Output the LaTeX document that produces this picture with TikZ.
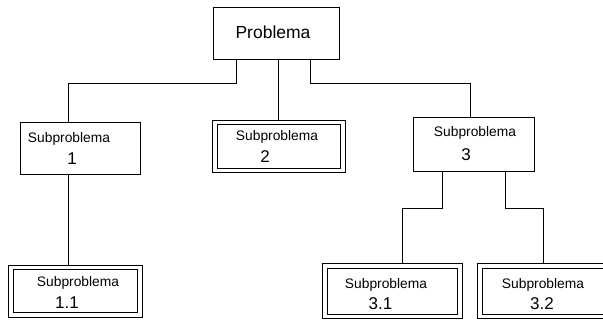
\documentclass[tikz,border=0pt]{standalone}
\usepackage{fontspec}
\setmainfont{Liberation Sans}
\begin{document}
\begin{tikzpicture}[x=1pt,y=-1pt,
  frame/.style 2 args={draw=black,line width=0.9pt,inner sep=0pt,
    minimum width=#1,minimum height=#2},
  link/.style={draw=black,line width=0.9pt},
  title/.style={inner sep=0pt,font=\fontsize{17.5}{20}\selectfont},
  word/.style={inner sep=0pt,font=\fontsize{13.8}{16}\selectfont},
  num/.style={inner sep=0pt,font=\fontsize{17}{20}\selectfont}]
\useasboundingbox (0,0) rectangle (603,320);
\clip (0,0) rectangle (603,320);

% root box
\node[frame={126pt}{52pt}] (P) at (276,33) {};
\node[title] (Pt) at (273,32) {Problema};

% first level
\node[frame={120pt}{52pt}] (S1) at (80,148) {};
\node[word] (S1a) at (69,139) {Subproblema};
\node[num] (S1b) at (72,159) {1};

\node[frame={133pt}{52pt}] (S2) at (278.5,146) {};
\node[frame={123pt}{44pt}] (S2in) at (278.5,146) {};
\node[word] (S2a) at (277,137) {Subproblema};
\node[num] (S2b) at (265,157) {2};

\node[frame={121pt}{54pt}] (S3) at (473.5,144) {};
\node[word] (S3a) at (475,133) {Subproblema};
\node[num] (S3b) at (466,154.5) {3};

% second level
\node[frame={134pt}{52pt}] (S11) at (75,291) {};
\node[frame={124pt}{43pt}] (S11in) at (75,290.5) {};
\node[word] (S11a) at (78,283) {Subproblema};
\node[num] (S11b) at (67,302.5) {1.1};

\node[frame={140pt}{55pt}] (S31) at (392,290.8) {};
\node[frame={130pt}{46pt}] (S31in) at (392,291) {};
\node[word] (S31a) at (386,285) {Subproblema};
\node[num] (S31b) at (380.5,304) {3.1};

\node[frame={140pt}{55pt}] (S32) at (547,290.8) {};
\node[frame={130pt}{46pt}] (S32in) at (547,291) {};
\node[word] (S32a) at (543,285) {Subproblema};
\node[num] (S32b) at (542,304) {3.2};

% connectors
\draw[link] ([xshift=-40pt]P.south) -- ++(0,24) -| ([xshift=-12pt]S1.north);
\draw[link] (S2.north |- P.south) -- (S2.north);
\draw[link] ([xshift=34pt]P.south) -- ++(0,24) -| ([xshift=-3.5pt]S3.north);
\draw[link] ([xshift=-12pt]S1.south) -- ([xshift=-7pt]S11.north);
\draw[link] ([xshift=-31.5pt]S3.south) -- ++(0,37) -| ([xshift=10pt]S31.north);
\draw[link] ([xshift=31.5pt]S3.south) -- ++(0,37) -| ([xshift=-4pt]S32.north);
\end{tikzpicture}
\end{document}
